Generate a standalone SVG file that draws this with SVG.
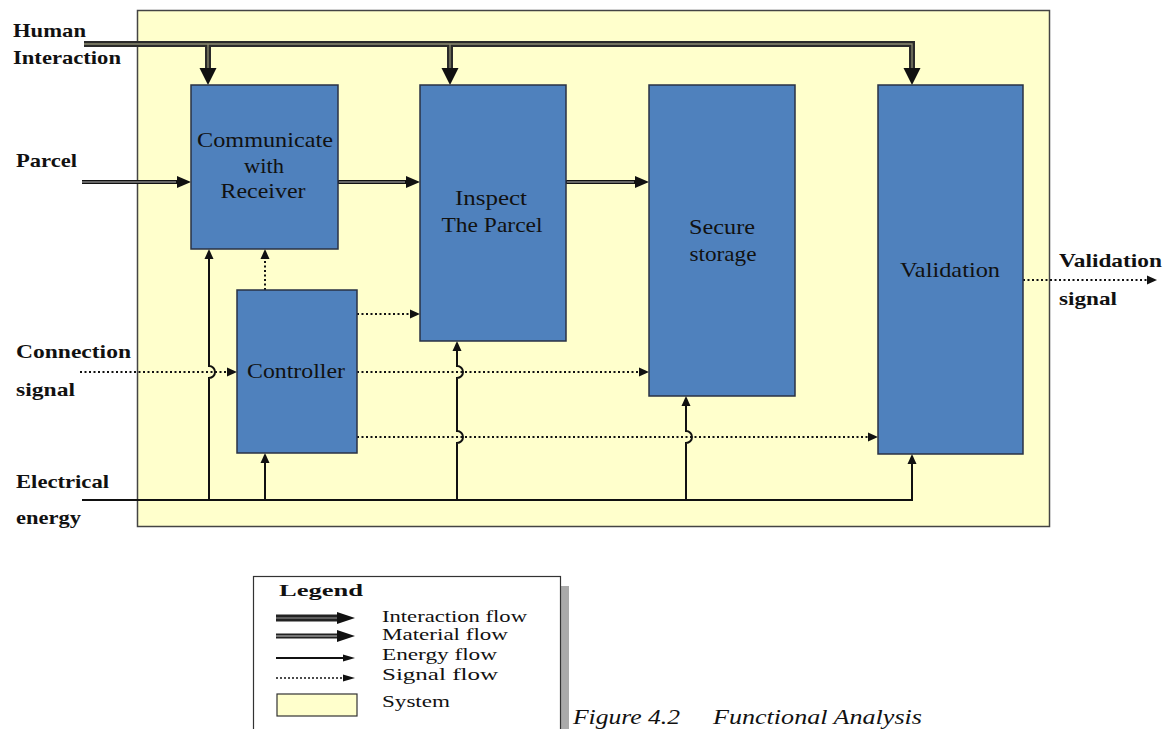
<svg xmlns="http://www.w3.org/2000/svg" width="1167" height="729" viewBox="0 0 1167 729">
<style>
  .sys{fill:#FFFFCC;stroke:#444;stroke-width:1.5}
  .box{fill:#4F81BD;stroke:#2a3244;stroke-width:1.5}
  .bt{font-family:"Liberation Serif",serif;font-size:21px;fill:#111;text-anchor:middle}
  .lb{font-family:"Liberation Serif",serif;font-size:19px;font-weight:bold;fill:#111}
  .lg{font-family:"Liberation Serif",serif;font-size:16px;fill:#111}
  .cap{font-family:"Liberation Serif",serif;font-size:21px;font-style:italic;fill:#111}
  .inter{fill:none;stroke:#2a2a2a;stroke-width:6}
  .interIn{fill:none;stroke:#8a8a70;stroke-width:1.3}
  .mat{fill:none;stroke:#111;stroke-width:4}
  .matIn{fill:none;stroke:#bbb;stroke-width:1}
  .en{fill:none;stroke:#111;stroke-width:2}
  .sig{fill:none;stroke:#111;stroke-width:2;stroke-dasharray:2 2.5}
</style>
<defs>
  <marker id="mInter" markerUnits="userSpaceOnUse" markerWidth="17" markerHeight="17" refX="0" refY="8.5" orient="auto" overflow="visible">
    <path d="M0,0 L17,8.5 L0,17 z" fill="#111"/>
  </marker>
  <marker id="mMat" markerUnits="userSpaceOnUse" markerWidth="14" markerHeight="12" refX="0" refY="6" orient="auto" overflow="visible">
    <path d="M0,0 L14,6 L0,12 z" fill="#111"/>
  </marker>
  <marker id="mSmall" markerUnits="userSpaceOnUse" markerWidth="10" markerHeight="9" refX="0" refY="4.5" orient="auto" overflow="visible">
    <path d="M0,0 L10,4.5 L0,9 z" fill="#111"/>
  </marker>
  <marker id="mLegBig" markerUnits="userSpaceOnUse" markerWidth="18" markerHeight="12" refX="0" refY="6" orient="auto" overflow="visible">
    <path d="M0,0 L18,6 L0,12 z" fill="#111"/>
  </marker>
  <marker id="mLegSmall" markerUnits="userSpaceOnUse" markerWidth="12" markerHeight="7" refX="0" refY="3.5" orient="auto" overflow="visible">
    <path d="M0,0 L12,3.5 L0,7 z" fill="#111"/>
  </marker>
</defs>

<rect id="system" class="sys" x="137.5" y="10.5" width="912" height="516"/>

<g id="connectors">
  <!-- Human interaction -->
  <path class="inter" d="M84,44 H912 V68" marker-end="url(#mInter)"/>
  <path class="inter" d="M208,44 V68" marker-end="url(#mInter)"/>
  <path class="inter" d="M450,44 V68" marker-end="url(#mInter)"/>
  <path class="interIn" d="M84,44 H912 V68"/>
  <path class="interIn" d="M208,44 V68"/>
  <path class="interIn" d="M450,44 V68"/>
  <!-- Material flow -->
  <path class="mat" d="M82,182 H177" marker-end="url(#mMat)"/>
  <path class="mat" d="M338,182 H406" marker-end="url(#mMat)"/>
  <path class="mat" d="M566,182 H635" marker-end="url(#mMat)"/>
  <path class="matIn" d="M82,182 H176"/>
  <path class="matIn" d="M339,182 H405"/>
  <path class="matIn" d="M567,182 H634"/>
  <!-- Energy flow -->
  <path class="en" d="M82,500 H912 V464" marker-end="url(#mSmall)"/>
  <path class="en" d="M209,500 V378 A6,6 0 0 0 209,366 V259" marker-end="url(#mSmall)"/>
  <path class="en" d="M265,500 V463" marker-end="url(#mSmall)"/>
  <path class="en" d="M457,500 V443 A6,6 0 0 0 457,431 V378 A6,6 0 0 0 457,366 V351" marker-end="url(#mSmall)"/>
  <path class="en" d="M686,500 V443 A6,6 0 0 0 686,431 V406" marker-end="url(#mSmall)"/>
  <!-- Signal flow -->
  <path class="sig" d="M80,372 H227" marker-end="url(#mSmall)"/>
  <path class="sig" d="M265,290 V259" marker-end="url(#mSmall)"/>
  <path class="sig" d="M357,314 H410" marker-end="url(#mSmall)"/>
  <path class="sig" d="M357,372 H639" marker-end="url(#mSmall)"/>
  <path class="sig" d="M357,437 H868" marker-end="url(#mSmall)"/>
  <path class="sig" d="M1023,280 H1147" marker-end="url(#mSmall)"/>
</g>

<g id="communicate">
  <rect class="box" x="191" y="85" width="147" height="164"/>
  <text class="bt" x="265" y="147" textLength="136" lengthAdjust="spacingAndGlyphs">Communicate</text>
  <text class="bt" x="264" y="173" textLength="40" lengthAdjust="spacingAndGlyphs">with</text>
  <text class="bt" x="263" y="198" textLength="85" lengthAdjust="spacingAndGlyphs">Receiver</text>
</g>
<g id="inspect">
  <rect class="box" x="420" y="85" width="146" height="256"/>
  <text class="bt" x="491" y="205" textLength="72" lengthAdjust="spacingAndGlyphs">Inspect</text>
  <text class="bt" x="492" y="232" textLength="101" lengthAdjust="spacingAndGlyphs">The Parcel</text>
</g>
<g id="secure">
  <rect class="box" x="649" y="85" width="146" height="311"/>
  <text class="bt" x="722" y="234" textLength="66" lengthAdjust="spacingAndGlyphs">Secure</text>
  <text class="bt" x="723" y="261" textLength="67" lengthAdjust="spacingAndGlyphs">storage</text>
</g>
<g id="validation">
  <rect class="box" x="878" y="85" width="145" height="369"/>
  <text class="bt" x="950" y="277" textLength="100" lengthAdjust="spacingAndGlyphs">Validation</text>
</g>
<g id="controller">
  <rect class="box" x="237" y="290" width="120" height="163"/>
  <text class="bt" x="296" y="378" textLength="98" lengthAdjust="spacingAndGlyphs">Controller</text>
</g>

<g id="labels">
  <text class="lb" x="13" y="37" textLength="73" lengthAdjust="spacingAndGlyphs">Human</text>
  <text class="lb" x="13" y="64" textLength="108" lengthAdjust="spacingAndGlyphs">Interaction</text>
  <text class="lb" x="16" y="167" textLength="61" lengthAdjust="spacingAndGlyphs">Parcel</text>
  <text class="lb" x="16" y="358" textLength="115" lengthAdjust="spacingAndGlyphs">Connection</text>
  <text class="lb" x="16" y="396" textLength="59" lengthAdjust="spacingAndGlyphs">signal</text>
  <text class="lb" x="16" y="488" textLength="93" lengthAdjust="spacingAndGlyphs">Electrical</text>
  <text class="lb" x="16" y="524" textLength="65" lengthAdjust="spacingAndGlyphs">energy</text>
  <text class="lb" x="1059" y="267" textLength="103" lengthAdjust="spacingAndGlyphs">Validation</text>
  <text class="lb" x="1059" y="305" textLength="58" lengthAdjust="spacingAndGlyphs">signal</text>
</g>

<g id="legend">
  <rect x="561" y="586" width="8" height="150" fill="#aaa"/>
  <rect x="253.5" y="576.5" width="307" height="160" fill="#fff" stroke="#333" stroke-width="1.2"/>
  <text class="lg" x="279" y="596" font-weight="bold" textLength="84" lengthAdjust="spacingAndGlyphs">Legend</text>
  <path d="M276,618 H337" fill="none" stroke="#222" stroke-width="7" marker-end="url(#mLegBig)"/>
  <path d="M276,618 H337" fill="none" stroke="#999" stroke-width="1"/>
  <path d="M276,636 H337" fill="none" stroke="#222" stroke-width="5" marker-end="url(#mLegBig)"/>
  <path d="M276,636 H337" fill="none" stroke="#ccc" stroke-width="1"/>
  <path d="M276,658 H343" class="en" marker-end="url(#mLegSmall)"/>
  <path d="M276,678 H343" fill="none" stroke="#111" stroke-width="1.5" stroke-dasharray="2 2" marker-end="url(#mLegSmall)"/>
  <rect x="277" y="694" width="80" height="22" fill="#FFFFCC" stroke="#333" stroke-width="1.2"/>
  <text class="lg" x="382" y="622" textLength="145" lengthAdjust="spacingAndGlyphs">Interaction flow</text>
  <text class="lg" x="382" y="640" textLength="126" lengthAdjust="spacingAndGlyphs">Material flow</text>
  <text class="lg" x="382" y="660" textLength="115" lengthAdjust="spacingAndGlyphs">Energy flow</text>
  <text class="lg" x="382" y="680" textLength="116" lengthAdjust="spacingAndGlyphs">Signal flow</text>
  <text class="lg" x="382" y="707" textLength="68" lengthAdjust="spacingAndGlyphs">System</text>
</g>

<g id="caption">
  <text class="cap" x="573" y="724" textLength="107" lengthAdjust="spacingAndGlyphs">Figure 4.2</text>
  <text class="cap" x="713" y="724" textLength="209" lengthAdjust="spacingAndGlyphs">Functional Analysis</text>
</g>
</svg>
